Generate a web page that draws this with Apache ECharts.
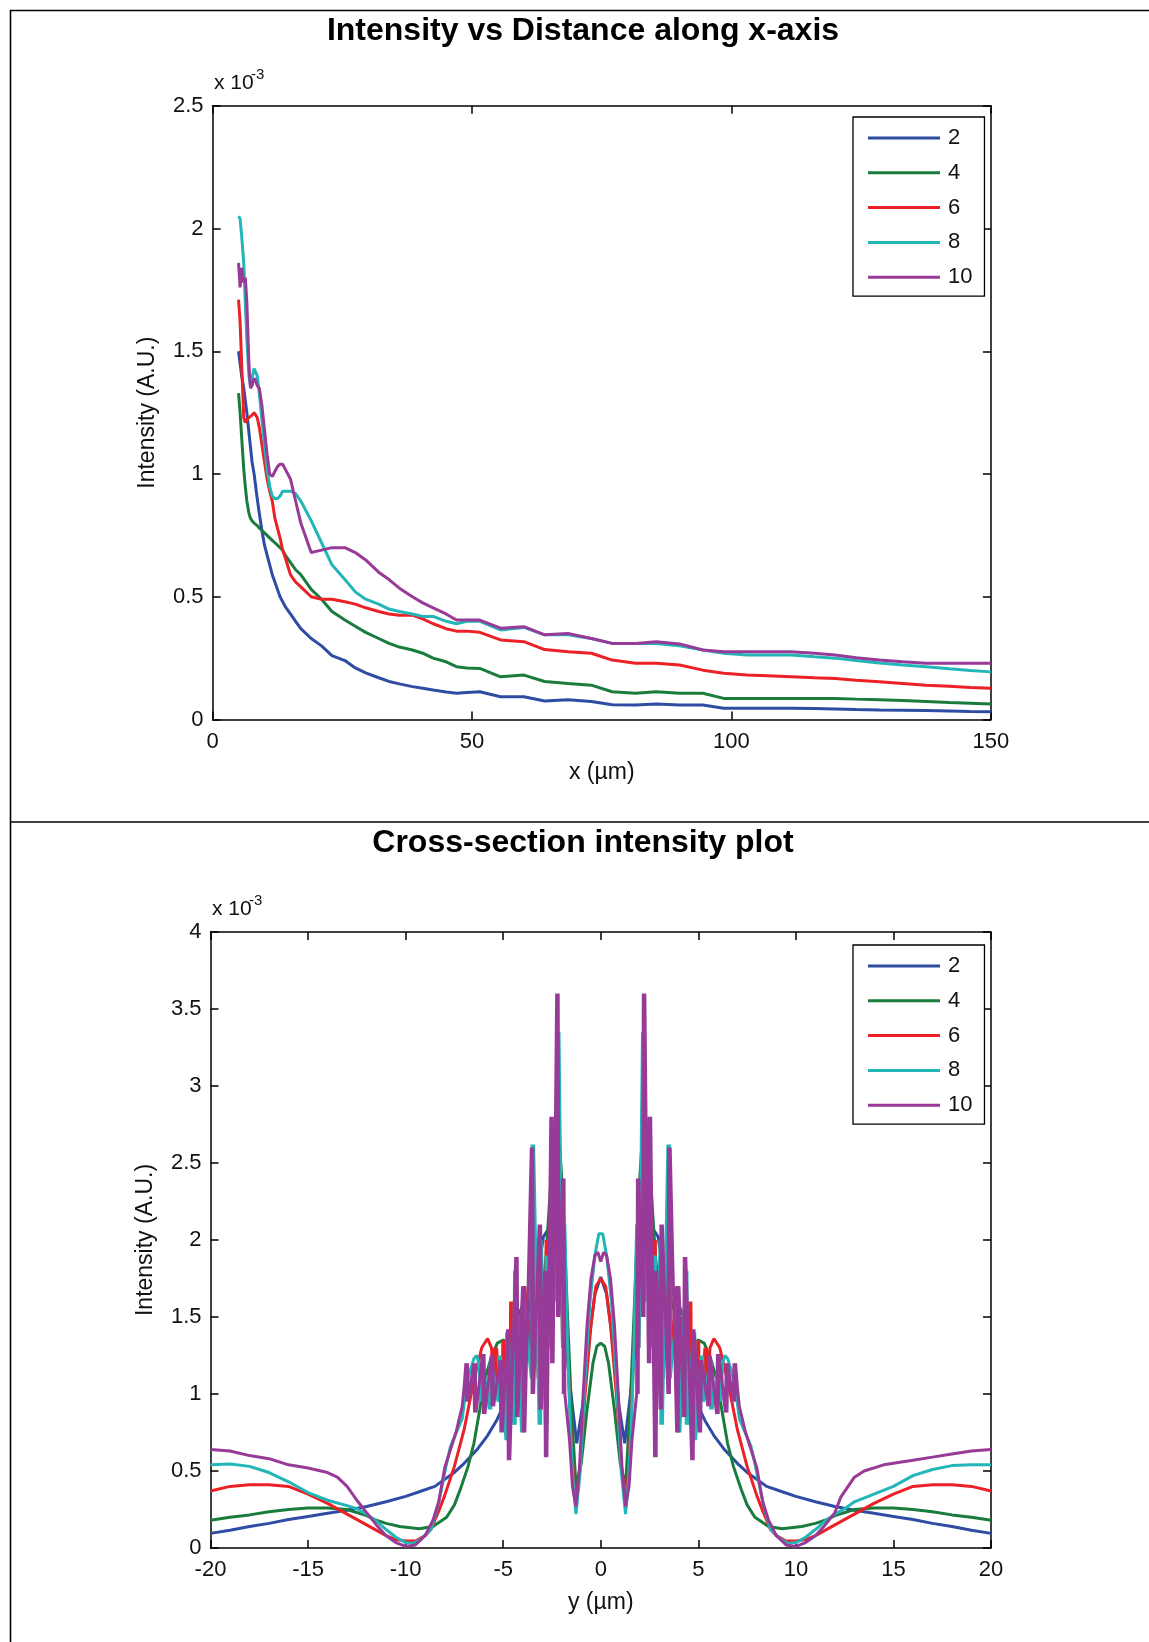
<!DOCTYPE html>
<html><head><meta charset="utf-8">
<script src="https://cdn.jsdelivr.net/npm/echarts@6/dist/echarts.min.js"></script>
<style>html,body{margin:0;padding:0;background:#fff}#c{width:1149px;height:1642px}</style>
</head><body><div id="c"></div>
<script>
// ---------- DATA ----------
const seriesNames = ['2', '4', '6', '8', '10'];
const seriesColors = ['#2e4ca4', '#1a7c3c', '#ec2127', '#22b6b8', '#983a97'];

// Top chart: x (µm) positions shared by all series
const distX = [5, 5.3, 5.6, 6, 6.3, 6.6, 7, 7.3, 7.6, 8, 8.3, 8.6, 9, 9.5, 10, 10.5, 11, 11.5, 12, 12.5, 13, 13.5, 14, 15, 16, 17, 19, 21, 23, 25.5, 27.5, 29.5, 32, 34, 36, 38.5, 40.5, 42.5, 45, 47, 49, 51.5, 55.5, 60, 64, 68.5, 73, 77, 81.5, 85.5, 90, 94.5, 98.5, 103, 107, 111.5, 116, 120, 124, 128.5, 133, 137.5, 142, 146, 150];
// intensities in units of 1e-3
const dist2 = [1.5, 1.45, 1.4, 1.35, 1.3, 1.25, 1.17, 1.11, 1.05, 1.0, 0.95, 0.9, 0.84, 0.77, 0.71, 0.67, 0.63, 0.59, 0.56, 0.53, 0.5, 0.48, 0.46, 0.43, 0.4, 0.37, 0.33, 0.3, 0.26, 0.24, 0.21, 0.19, 0.17, 0.155, 0.145, 0.134, 0.127, 0.12, 0.112, 0.107, 0.11, 0.113, 0.093, 0.093, 0.075, 0.08, 0.073, 0.06, 0.059, 0.063, 0.059, 0.059, 0.046, 0.046, 0.046, 0.046, 0.045, 0.043, 0.041, 0.039, 0.038, 0.037, 0.035, 0.033, 0.032];
const dist4 = [1.33, 1.25, 1.15, 1.02, 0.95, 0.89, 0.84, 0.82, 0.81, 0.8, 0.795, 0.79, 0.78, 0.77, 0.76, 0.75, 0.74, 0.73, 0.72, 0.71, 0.7, 0.69, 0.67, 0.64, 0.61, 0.59, 0.53, 0.49, 0.44, 0.405, 0.38, 0.355, 0.33, 0.31, 0.295, 0.283, 0.27, 0.25, 0.235, 0.215, 0.21, 0.208, 0.174, 0.181, 0.155, 0.147, 0.14, 0.113, 0.107, 0.113, 0.107, 0.107, 0.086, 0.086, 0.086, 0.086, 0.086, 0.086, 0.083, 0.08, 0.077, 0.073, 0.069, 0.066, 0.063];
const dist6 = [1.71, 1.62, 1.45, 1.23, 1.21, 1.22, 1.23, 1.23, 1.24, 1.25, 1.25, 1.23, 1.19, 1.12, 1.05, 0.98, 0.93, 0.89, 0.82, 0.78, 0.74, 0.69, 0.66, 0.59, 0.56, 0.54, 0.5, 0.49, 0.49, 0.48, 0.47, 0.455, 0.44, 0.43, 0.425, 0.425, 0.41, 0.39, 0.37, 0.36, 0.36, 0.355, 0.324, 0.317, 0.285, 0.276, 0.27, 0.242, 0.229, 0.229, 0.222, 0.201, 0.188, 0.181, 0.178, 0.174, 0.17, 0.167, 0.16, 0.154, 0.147, 0.14, 0.135, 0.13, 0.127];
const dist8 = [2.05, 2.04, 1.97, 1.86, 1.7, 1.55, 1.4, 1.36, 1.39, 1.43, 1.43, 1.4, 1.33, 1.22, 1.12, 1.02, 0.95, 0.91, 0.9, 0.9, 0.91, 0.93, 0.93, 0.93, 0.92, 0.89, 0.81, 0.72, 0.63, 0.57, 0.52, 0.49, 0.47, 0.45, 0.44, 0.43, 0.42, 0.42, 0.4, 0.39, 0.4, 0.4, 0.365, 0.375, 0.345, 0.345, 0.33, 0.31, 0.31, 0.31, 0.3, 0.283, 0.27, 0.263, 0.263, 0.263, 0.256, 0.25, 0.24, 0.23, 0.222, 0.215, 0.207, 0.2, 0.194];
const dist10 = [1.86, 1.76, 1.84, 1.78, 1.8, 1.7, 1.45, 1.35, 1.36, 1.39, 1.38, 1.36, 1.35, 1.28, 1.18, 1.08, 1.0, 0.99, 1.01, 1.03, 1.04, 1.04, 1.02, 0.98, 0.89, 0.8, 0.68, 0.69, 0.7, 0.7, 0.68, 0.65, 0.6, 0.57, 0.535, 0.5, 0.475, 0.455, 0.43, 0.405, 0.405, 0.405, 0.372, 0.378, 0.345, 0.35, 0.33, 0.31, 0.31, 0.317, 0.308, 0.283, 0.276, 0.276, 0.276, 0.276, 0.27, 0.263, 0.252, 0.242, 0.235, 0.229, 0.229, 0.229, 0.229];

// Bottom chart: [y (µm), intensity (1e-3)]
const cross2 = [[-20,0.095],[-19,0.115],[-18,0.14],[-17,0.16],[-16,0.185],[-15,0.205],[-14,0.225],[-13,0.245],[-12,0.27],[-11,0.3],[-10,0.335],[-9.3,0.365],[-8.5,0.4],[-7.56,0.485],[-7,0.55],[-6.36,0.636],[-5.8,0.73],[-5.33,0.83],[-5,0.92],[-4.6,1.0],[-4.14,1.09],[-3.8,1.3],[-3.46,1.52],[-3.2,1.8],[-2.94,2.02],[-2.69,2.07],[-2.45,1.98],[-2.25,1.8],[-1.92,1.48],[-1.57,1.05],[-1.23,0.68],[-0.9,0.95],[-0.6,1.35],[-0.3,1.65],[0,1.76],
  [0.3,1.65],[0.6,1.35],[0.9,0.95],[1.23,0.68],[1.57,1.05],[1.92,1.48],[2.25,1.8],[2.45,1.98],[2.69,2.07],[2.94,2.02],[3.2,1.8],[3.46,1.52],[3.8,1.3],[4.14,1.09],[4.6,1.0],[5,0.92],[5.33,0.83],[5.8,0.73],[6.36,0.636],[7,0.55],[7.56,0.485],[8.5,0.4],[9.3,0.365],[10,0.335],[11,0.3],[12,0.27],[13,0.245],[14,0.225],[15,0.205],[16,0.185],[17,0.16],[18,0.14],[19,0.115],[20,0.095]];
const cross4 = [[-20,0.18],[-19,0.2],[-18,0.215],[-17,0.235],[-16,0.25],[-15,0.26],[-14,0.26],[-13,0.25],[-12,0.21],[-11.5,0.18],[-11,0.16],[-10.3,0.14],[-9.3,0.125],[-8.6,0.14],[-7.9,0.2],[-7.5,0.28],[-7.2,0.38],[-6.8,0.53],[-6.5,0.68],[-6.2,0.9],[-6,1.07],[-5.6,1.24],[-5.3,1.33],[-5,1.35],[-4.7,1.33],[-4.4,1.45],[-4,1.58],[-3.7,1.6],[-3.4,1.45],[-3.1,1.5],[-2.8,1.9],[-2.5,2.5],[-2.2,2.8],[-1.95,2.3],[-1.7,1.5],[-1.5,0.9],[-1.27,0.4],[-1,0.55],[-0.7,0.9],[-0.4,1.2],[-0.2,1.31],[0,1.33],
  [0.2,1.31],[0.4,1.2],[0.7,0.9],[1,0.55],[1.27,0.4],[1.5,0.9],[1.7,1.5],[1.95,2.3],[2.2,2.8],[2.5,2.5],[2.8,1.9],[3.1,1.5],[3.4,1.45],[3.7,1.6],[4,1.58],[4.4,1.45],[4.7,1.33],[5,1.35],[5.3,1.33],[5.6,1.24],[6,1.07],[6.2,0.9],[6.5,0.68],[6.8,0.53],[7.2,0.38],[7.5,0.28],[7.9,0.2],[8.6,0.14],[9.3,0.125],[10.3,0.14],[11,0.16],[11.5,0.18],[12,0.21],[13,0.25],[14,0.26],[15,0.26],[16,0.25],[17,0.235],[18,0.215],[19,0.2],[20,0.18]];
const cross6 = [[-20,0.37],[-19,0.4],[-18,0.41],[-17,0.41],[-16,0.4],[-15,0.35],[-14,0.29],[-13,0.22],[-12,0.15],[-11,0.08],[-10.5,0.055],[-10,0.045],[-9.5,0.045],[-9,0.08],[-8.7,0.12],[-8.3,0.24],[-8,0.34],[-7.5,0.53],[-7,0.77],[-6.5,1.09],[-6.1,1.3],[-5.8,1.36],[-5.6,1.3],
  [-5.46,1.0],[-5.42,1.3],[-5.38,1.0],[-5.34,1.3],
  [-5.06,0.85],[-5.02,1.35],[-4.98,0.85],[-4.94,1.35],
  [-4.66,0.9],[-4.62,1.6],[-4.58,0.9],[-4.54,1.6],
  [-4.31,1.0],[-4.27,1.5],[-4.23,1.0],[-4.19,1.5],
  [-4.01,0.87],[-3.97,1.7],[-3.93,0.87],[-3.89,1.7],
  [-3.61,1.2],[-3.57,2.15],[-3.53,1.2],[-3.49,2.15],
  [-3.21,1.1],[-3.17,1.9],[-3.13,1.1],[-3.09,1.9],
  [-2.84,1.0],[-2.8,2.0],[-2.76,1.0],[-2.72,2.0],
  [-2.54,1.5],[-2.5,2.3],[-2.46,1.5],[-2.42,2.3],
  [-2.26,2.0],[-2.22,2.92],[-2.18,2.0],[-2.14,2.92],
  [-1.96,1.3],[-1.92,1.9],[-1.88,1.3],[-1.84,1.9],
  [-1.7,1.3],[-1.55,0.8],[-1.4,0.45],[-1.27,0.3],[-1.05,0.55],[-0.8,1.0],[-0.5,1.45],[-0.25,1.7],[0,1.75],
  [0.25,1.7],[0.5,1.45],[0.8,1.0],[1.05,0.55],[1.27,0.3],[1.4,0.45],[1.55,0.8],[1.7,1.3],
  [1.84,1.9],[1.88,1.3],[1.92,1.9],[1.96,1.3],
  [2.14,2.92],[2.18,2.0],[2.22,2.92],[2.26,2.0],
  [2.42,2.3],[2.46,1.5],[2.5,2.3],[2.54,1.5],
  [2.72,2.0],[2.76,1.0],[2.8,2.0],[2.84,1.0],
  [3.09,1.9],[3.13,1.1],[3.17,1.9],[3.21,1.1],
  [3.49,2.15],[3.53,1.2],[3.57,2.15],[3.61,1.2],
  [3.89,1.7],[3.93,0.87],[3.97,1.7],[4.01,0.87],
  [4.19,1.5],[4.23,1.0],[4.27,1.5],[4.31,1.0],
  [4.54,1.6],[4.58,0.9],[4.62,1.6],[4.66,0.9],
  [4.94,1.35],[4.98,0.85],[5.02,1.35],[5.06,0.85],
  [5.34,1.3],[5.38,1.0],[5.42,1.3],[5.46,1.0],
  [5.6,1.3],[5.8,1.36],[6.1,1.3],[6.5,1.09],[7,0.77],[7.5,0.53],[8,0.34],[8.3,0.24],[8.7,0.12],[9,0.08],[9.5,0.045],[10,0.045],[10.5,0.055],[11,0.08],[12,0.15],[13,0.22],[14,0.29],[15,0.35],[16,0.4],[17,0.41],[18,0.41],[19,0.4],[20,0.37]];
const cross8 = [[-20,0.54],[-19,0.545],[-18,0.53],[-17,0.49],[-16,0.43],[-15,0.36],[-14,0.31],[-13,0.275],[-12.5,0.255],[-12,0.22],[-11.5,0.175],[-11,0.12],[-10.5,0.07],[-10,0.035],[-9.6,0.03],[-9.2,0.06],[-8.7,0.12],[-8.4,0.25],[-8.2,0.36],[-7.9,0.55],[-7.7,0.66],[-7.4,0.75],[-7.1,0.84],[-6.9,1.04],[-6.7,1.15],[-6.5,1.23],[-6.36,1.25],[-6.25,1.2],
  [-6.16,0.95],[-6.12,1.2],[-6.08,0.95],[-6.04,1.2],
  [-5.71,0.9],[-5.67,1.2],[-5.63,0.9],[-5.59,1.2],
  [-5.26,0.95],[-5.22,1.25],[-5.18,0.95],[-5.14,1.25],
  [-4.86,0.7],[-4.82,1.4],[-4.78,0.7],[-4.74,1.4],
  [-4.46,0.8],[-4.42,1.8],[-4.38,0.8],[-4.34,1.8],
  [-4.06,0.75],[-4.02,1.6],[-3.98,0.75],[-3.94,1.6],
  [-3.56,1.1],[-3.52,2.62],[-3.48,1.1],[-3.44,2.62],
  [-3.16,0.8],[-3.12,2.0],[-3.08,0.8],[-3.04,2.0],
  [-2.84,0.8],[-2.8,1.9],[-2.76,0.8],[-2.72,1.9],
  [-2.56,1.3],[-2.52,2.6],[-2.48,1.3],[-2.44,2.6],
  [-2.26,1.6],[-2.22,3.35],[-2.18,1.6],[-2.14,3.35],
  [-1.96,1.3],[-1.92,2.1],[-1.88,1.3],[-1.84,2.1],
  [-1.7,1.3],[-1.55,0.75],[-1.4,0.4],[-1.27,0.22],[-1.05,0.5],[-0.8,1.1],[-0.55,1.6],[-0.3,1.9],[-0.1,2.04],[0,2.05],
  [0.1,2.04],[0.3,1.9],[0.55,1.6],[0.8,1.1],[1.05,0.5],[1.27,0.22],[1.4,0.4],[1.55,0.75],[1.7,1.3],
  [1.84,2.1],[1.88,1.3],[1.92,2.1],[1.96,1.3],
  [2.14,3.35],[2.18,1.6],[2.22,3.35],[2.26,1.6],
  [2.44,2.6],[2.48,1.3],[2.52,2.6],[2.56,1.3],
  [2.72,1.9],[2.76,0.8],[2.8,1.9],[2.84,0.8],
  [3.04,2.0],[3.08,0.8],[3.12,2.0],[3.16,0.8],
  [3.44,2.62],[3.48,1.1],[3.52,2.62],[3.56,1.1],
  [3.94,1.6],[3.98,0.75],[4.02,1.6],[4.06,0.75],
  [4.34,1.8],[4.38,0.8],[4.42,1.8],[4.46,0.8],
  [4.74,1.4],[4.78,0.7],[4.82,1.4],[4.86,0.7],
  [5.14,1.25],[5.18,0.95],[5.22,1.25],[5.26,0.95],
  [5.59,1.2],[5.63,0.9],[5.67,1.2],[5.71,0.9],
  [6.04,1.2],[6.08,0.95],[6.12,1.2],[6.16,0.95],
  [6.25,1.2],[6.36,1.25],[6.5,1.23],[6.7,1.15],[6.9,1.04],[7.1,0.84],[7.4,0.75],[7.7,0.66],[7.9,0.55],[8.2,0.36],[8.4,0.25],[8.7,0.12],[9.2,0.06],[9.6,0.03],[10,0.035],[10.5,0.07],[11,0.12],[11.5,0.175],[12,0.22],[12.5,0.255],[13,0.3],[14,0.35],[15,0.4],[16,0.47],[17,0.51],[18,0.535],[19,0.54],[20,0.54]];
const cross10 = [[-20,0.64],[-19,0.63],[-18,0.6],[-17,0.58],[-16,0.54],[-15,0.52],[-14,0.49],[-13.5,0.46],[-13,0.4],[-12.5,0.31],[-12,0.23],[-11.5,0.15],[-11,0.08],[-10.5,0.035],[-10,0.01],[-9.5,0.02],[-9,0.08],[-8.6,0.18],[-8.3,0.3],[-8,0.52],[-7.7,0.64],[-7.4,0.76],[-7.1,0.92],[-7,1.05],
  [-6.91,1.2],[-6.87,0.95],[-6.83,1.2],[-6.79,0.95],
  [-6.51,1.2],[-6.47,0.88],[-6.43,1.2],[-6.39,0.88],
  [-6.06,1.26],[-6.02,0.87],[-5.98,1.26],[-5.94,0.87],
  [-5.61,1.25],[-5.57,0.92],[-5.53,1.25],[-5.49,0.92],
  [-5.16,1.22],[-5.12,0.75],[-5.08,1.22],[-5.04,0.75],
  [-4.78,1.42],[-4.74,0.57],[-4.7,1.42],[-4.66,0.57],
  [-4.36,1.89],[-4.32,0.85],[-4.28,1.89],[-4.24,0.85],
  [-4.01,1.7],[-3.97,0.75],[-3.93,1.7],[-3.89,0.75],
  [-3.56,2.6],[-3.52,1.0],[-3.48,2.6],[-3.44,1.0],
  [-3.16,2.1],[-3.12,0.9],[-3.08,2.1],[-3.04,0.9],
  [-2.88,1.8],[-2.84,0.59],[-2.8,1.8],[-2.76,0.59],
  [-2.56,2.8],[-2.52,1.2],[-2.48,2.8],[-2.44,1.2],
  [-2.26,3.6],[-2.22,1.5],[-2.18,3.6],[-2.14,1.5],
  [-1.96,2.4],[-1.92,1.0],[-1.88,2.4],[-1.84,1.0],
  [-1.6,0.7],[-1.45,0.4],[-1.27,0.27],[-1.1,0.5],[-0.9,1.0],[-0.7,1.45],[-0.5,1.75],[-0.3,1.9],[-0.15,1.92],[0,1.86],
  [0.15,1.92],[0.3,1.9],[0.5,1.75],[0.7,1.45],[0.9,1.0],[1.1,0.5],[1.27,0.27],[1.45,0.4],[1.6,0.7],
  [1.84,1.0],[1.88,2.4],[1.92,1.0],[1.96,2.4],
  [2.14,1.5],[2.18,3.6],[2.22,1.5],[2.26,3.6],
  [2.44,1.2],[2.48,2.8],[2.52,1.2],[2.56,2.8],
  [2.76,0.59],[2.8,1.8],[2.84,0.59],[2.88,1.8],
  [3.04,0.9],[3.08,2.1],[3.12,0.9],[3.16,2.1],
  [3.44,1.0],[3.48,2.6],[3.52,1.0],[3.56,2.6],
  [3.89,0.75],[3.93,1.7],[3.97,0.75],[4.01,1.7],
  [4.24,0.85],[4.28,1.89],[4.32,0.85],[4.36,1.89],
  [4.66,0.57],[4.7,1.42],[4.74,0.57],[4.78,1.42],
  [5.04,0.75],[5.08,1.22],[5.12,0.75],[5.16,1.22],
  [5.49,0.92],[5.53,1.25],[5.57,0.92],[5.61,1.25],
  [5.94,0.87],[5.98,1.26],[6.02,0.87],[6.06,1.26],
  [6.39,0.88],[6.43,1.2],[6.47,0.88],[6.51,1.2],
  [6.79,0.95],[6.83,1.2],[6.87,0.95],[6.91,1.2],
  [7,1.05],[7.1,0.92],[7.4,0.76],[7.7,0.64],[8,0.52],[8.3,0.3],[8.6,0.18],[9,0.08],[9.5,0.02],[10,0.01],[10.5,0.035],[11,0.08],[11.5,0.15],[12,0.23],[12.3,0.33],[13,0.46],[13.5,0.5],[14.5,0.54],[16,0.57],[17,0.59],[18,0.61],[19,0.63],[20,0.64]];

const topTicksX = {min: 0, max: 150, interval: 50};
const topTicksY = {min: 0, max: 2.5, interval: 0.5};
const botTicksX = {min: -20, max: 20, interval: 5};
const botTicksY = {min: 0, max: 4, interval: 0.5};

// ---------- CHART ----------
const FONT = "'Liberation Sans', Arial, Helvetica, sans-serif";
const chart = echarts.init(document.getElementById('c'), null, {renderer: 'canvas'});

const axisLineStyle = {color: '#000', width: 1.5};
function mkX(grid, t, pos, name, nameGap) {
  return {
    gridIndex: grid, type: 'value', position: pos, min: t.min, max: t.max, interval: t.interval,
    axisLine: {show: true, onZero: false, lineStyle: axisLineStyle},
    axisTick: {show: true, inside: true, length: 8, lineStyle: axisLineStyle},
    axisLabel: {show: pos === 'bottom', fontSize: 22, color: '#111', fontFamily: FONT, margin: 11},
    splitLine: {show: false},
    name: pos === 'bottom' ? name : '', nameLocation: 'middle', nameGap: nameGap,
    nameTextStyle: {fontSize: 23, color: '#111', fontFamily: FONT}
  };
}
function mkY(grid, t, pos, name, nameGap) {
  return {
    gridIndex: grid, type: 'value', position: pos, min: t.min, max: t.max, interval: t.interval,
    axisLine: {show: true, onZero: false, lineStyle: axisLineStyle},
    axisTick: {show: true, inside: true, length: 8, lineStyle: axisLineStyle},
    axisLabel: {show: pos === 'left', fontSize: 22, color: '#111', fontFamily: FONT, margin: 9},
    splitLine: {show: false},
    name: pos === 'left' ? name : '', nameLocation: 'middle', nameGap: nameGap, nameRotate: 90,
    nameTextStyle: {fontSize: 23, color: '#111', fontFamily: FONT}
  };
}

const distSets = [dist2, dist4, dist6, dist8, dist10];
const crossSets = [cross2, cross4, cross6, cross8, cross10];
const series = [];
distSets.forEach((vals, i) => {
  series.push({
    name: seriesNames[i], type: 'line', xAxisIndex: 0, yAxisIndex: 0,
    data: distX.map((x, k) => [x, vals[k]]),
    showSymbol: false, symbol: 'none', animation: false, clip: true,
    lineStyle: {color: seriesColors[i], width: 3}, itemStyle: {color: seriesColors[i]}
  });
});
crossSets.forEach((pts, i) => {
  series.push({
    name: seriesNames[i], type: 'line', xAxisIndex: 2, yAxisIndex: 2,
    data: pts,
    showSymbol: false, symbol: 'none', animation: false, clip: true,
    lineStyle: {color: seriesColors[i], width: 3}, itemStyle: {color: seriesColors[i]}
  });
});

function mkLegend(top) {
  return {
    data: seriesNames, orient: 'vertical', left: 853, top: top,
    backgroundColor: '#fff', borderColor: '#000', borderWidth: 1.3,
    padding: [10, 12, 8, 15], itemGap: 12.8, itemWidth: 72, itemHeight: 3, icon: 'rect',
    textStyle: {fontSize: 22, color: '#111', fontFamily: FONT, lineHeight: 22, padding: [0, 0, 0, 3]},
    selectedMode: false
  };
}

const option = {
  backgroundColor: '#fff',
  animation: false,
  title: [
    {text: 'Intensity vs Distance along x-axis', left: 583, top: 15, textAlign: 'center', padding: 0,
     textStyle: {fontSize: 32, fontWeight: 'bold', color: '#000', fontFamily: FONT}},
    {text: 'Cross-section intensity plot', left: 583, top: 827, textAlign: 'center', padding: 0,
     textStyle: {fontSize: 32, fontWeight: 'bold', color: '#000', fontFamily: FONT}}
  ],
  grid: [
    {left: 212.6, top: 105.8, width: 778.3, height: 613.7, containLabel: false},
    {left: 210.5, top: 932, width: 780.5, height: 616, containLabel: false}
  ],
  xAxis: [
    mkX(0, topTicksX, 'bottom', 'x (µm)', 42),
    mkX(0, topTicksX, 'top', '', 0),
    mkX(1, botTicksX, 'bottom', 'y (µm)', 43),
    mkX(1, botTicksX, 'top', '', 0)
  ],
  yAxis: [
    mkY(0, topTicksY, 'left', 'Intensity (A.U.)', 53),
    mkY(0, topTicksY, 'right', '', 0),
    mkY(1, botTicksY, 'left', 'Intensity (A.U.)', 53),
    mkY(1, botTicksY, 'right', '', 0)
  ],
  legend: [mkLegend(117), mkLegend(945)],
  series: series,
  graphic: [
    {type: 'line', shape: {x1: 10, y1: 10.5, x2: 1149, y2: 10.5}, style: {stroke: '#000', lineWidth: 1.6}},
    {type: 'line', shape: {x1: 10.5, y1: 10, x2: 10.5, y2: 1642}, style: {stroke: '#000', lineWidth: 1.6}},
    {type: 'line', shape: {x1: 10, y1: 822, x2: 1149, y2: 822}, style: {stroke: '#000', lineWidth: 1.6}},
    {type: 'text', x: 214, y: 94, style: {text: 'x 10', fontSize: 21, fill: '#111', fontFamily: FONT, textVerticalAlign: 'bottom'}},
    {type: 'text', x: 251, y: 82, style: {text: '-3', fontSize: 15, fill: '#111', fontFamily: FONT, textVerticalAlign: 'bottom'}},
    {type: 'text', x: 212, y: 920, style: {text: 'x 10', fontSize: 21, fill: '#111', fontFamily: FONT, textVerticalAlign: 'bottom'}},
    {type: 'text', x: 249, y: 908, style: {text: '-3', fontSize: 15, fill: '#111', fontFamily: FONT, textVerticalAlign: 'bottom'}}
  ]
};
chart.setOption(option);
</script>
</body></html>
